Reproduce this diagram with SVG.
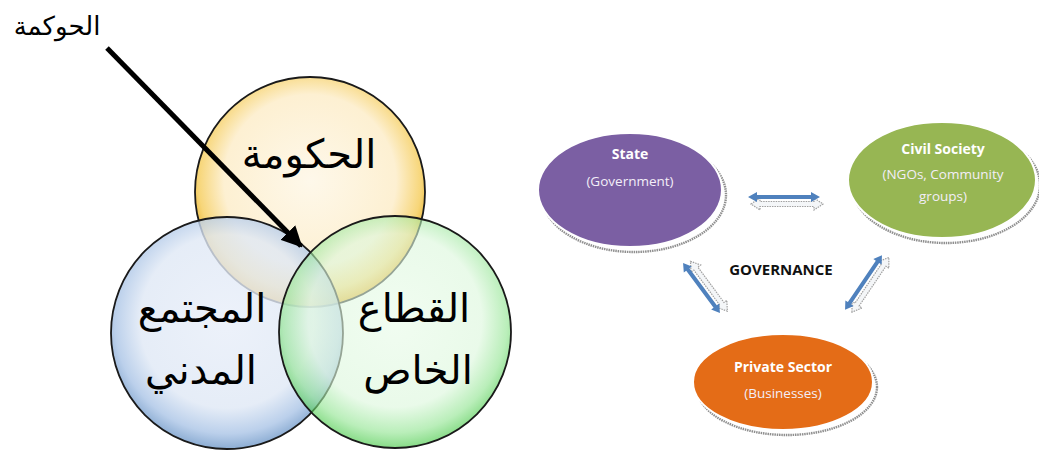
<svg xmlns="http://www.w3.org/2000/svg" width="1039" height="452" viewBox="0 0 1039 452">
<defs>
<style>
.ar{font-family:"DejaVu Sans","Noto Sans",sans-serif;fill:#000;text-anchor:middle}
.en{font-family:"Open Sans","Lato","Liberation Sans",sans-serif;text-anchor:middle}
.ttl{font-weight:bold;fill:#fff;font-size:14px}
.sub{fill:#f3eef8;font-size:13.5px}
.circ{stroke:#1a1a1a;stroke-width:1.8}
.shadow{fill:#fff;stroke:#8f8f8f;stroke-width:2.4;stroke-dasharray:1.5 0.8}
.blk{fill:#4f81bd}
.ashadow{fill:#f4f6f8;stroke:#a0a0a0;stroke-width:1.2;stroke-dasharray:1.5 1}
</style>
<radialGradient id="gy" cx="0.5" cy="0.45" r="0.55">
<stop offset="0" stop-color="#fef8ea"/><stop offset="0.68" stop-color="#fdf0d2"/><stop offset="0.88" stop-color="#f7d679"/><stop offset="1" stop-color="#e6ac22"/>
</radialGradient>
<radialGradient id="gb" cx="0.5" cy="0.45" r="0.55">
<stop offset="0" stop-color="#e8eef9"/><stop offset="0.68" stop-color="#dfe8f5"/><stop offset="0.88" stop-color="#aac4e6"/><stop offset="1" stop-color="#6f98c8"/>
</radialGradient>
<radialGradient id="gg" cx="0.5" cy="0.45" r="0.55">
<stop offset="0" stop-color="#e8fbe8"/><stop offset="0.68" stop-color="#dcf7dc"/><stop offset="0.88" stop-color="#8fe48f"/><stop offset="1" stop-color="#3ec63e"/>
</radialGradient>
<marker id="ah" viewBox="0 0 10 10" refX="9" refY="5" markerWidth="4.2" markerHeight="4.2" orient="auto" markerUnits="strokeWidth">
<path d="M0,0 L10,5 L0,10 z" fill="#000"/>
</marker>
</defs>
<rect width="1039" height="452" fill="#fff"/>

<!-- Left Venn diagram -->
<g id="venn-government">
<circle class="circ" cx="310" cy="192" r="115" fill="url(#gy)"/>
<text class="ar" x="309" y="168" font-size="40">الحكومة</text>
</g>
<g id="venn-civil-society">
<circle class="circ" cx="227" cy="333" r="116" fill="url(#gb)" fill-opacity="0.8"/>
<text class="ar" x="202" y="322" font-size="40">المجتمع</text>
<text class="ar" x="201" y="384" font-size="40">المدني</text>
</g>
<g id="venn-private-sector">
<circle class="circ" cx="395" cy="332" r="116" fill="url(#gg)" fill-opacity="0.62"/>
<text class="ar" x="414" y="322" font-size="40">القطاع</text>
<text class="ar" x="418" y="384" font-size="40">الخاص</text>
</g>
<g id="governance-label">
<text class="ar" x="57" y="35" font-size="26">الحوكمة</text>
</g>

<!-- Right diagram nodes -->
<g id="node-state">
<ellipse class="shadow" cx="634" cy="195" rx="92" ry="57"/>
<ellipse cx="630" cy="190" rx="92" ry="57" fill="#7b5fa3" stroke="#fff" stroke-width="2"/>
<text class="en ttl" x="630" y="159">State</text>
<text class="en sub" x="630" y="186">(Government)</text>
</g>
<g id="node-civil-society">
<ellipse class="shadow" cx="946" cy="185" rx="94" ry="58"/>
<ellipse cx="942" cy="180" rx="94" ry="58" fill="#97b653" stroke="#fff" stroke-width="2"/>
<text class="en ttl" x="943" y="154">Civil Society</text>
<text class="en sub" x="943" y="179">(NGOs, Community</text>
<text class="en sub" x="943" y="201">groups)</text>
</g>
<g id="node-private-sector">
<ellipse class="shadow" cx="787" cy="387" rx="90" ry="48"/>
<ellipse cx="783" cy="382" rx="90" ry="48" fill="#e46c17" stroke="#fff" stroke-width="2"/>
<text class="en ttl" x="783" y="372">Private Sector</text>
<text class="en sub" x="783" y="398">(Businesses)</text>
</g>
<g id="node-governance">
<text class="en" x="781" y="275" font-size="15" font-weight="bold" fill="#111">GOVERNANCE</text>
</g>

<!-- Connectors -->
<g id="connectors">
<line x1="107" y1="48" x2="301" y2="246" stroke="#000" stroke-width="5" marker-end="url(#ah)"/>
<g transform="translate(784,197)">
<path class="ashadow" transform="translate(3,7)" d="M-36,0 L-27,-6 L-27,-2.5 L27,-2.5 L27,-6 L36,0 L27,6 L27,2.5 L-27,2.5 L-27,6 z"/>
<path class="blk" d="M-36,0 L-27,-5 L-27,-2 L27,-2 L27,-5 L36,0 L27,5 L27,2 L-27,2 L-27,5 z"/>
</g>
<g transform="translate(701.5,288) rotate(53.5)">
<path class="ashadow" transform="translate(3,-7)" d="M-31,0 L-22,-6 L-22,-2.5 L22,-2.5 L22,-6 L31,0 L22,6 L22,2.5 L-22,2.5 L-22,6 z"/>
<path class="blk" d="M-31,0 L-23,-5 L-23,-2 L23,-2 L23,-5 L31,0 L23,5 L23,2 L-23,2 L-23,5 z"/>
</g>
<g transform="translate(863.5,282.5) rotate(-56)">
<path class="ashadow" transform="translate(2,7)" d="M-33,0 L-24,-6 L-24,-2.5 L24,-2.5 L24,-6 L33,0 L24,6 L24,2.5 L-24,2.5 L-24,6 z"/>
<path class="blk" d="M-33,0 L-25,-5 L-25,-2 L25,-2 L25,-5 L33,0 L25,5 L25,2 L-25,2 L-25,5 z"/>
</g>
</g>
</svg>
